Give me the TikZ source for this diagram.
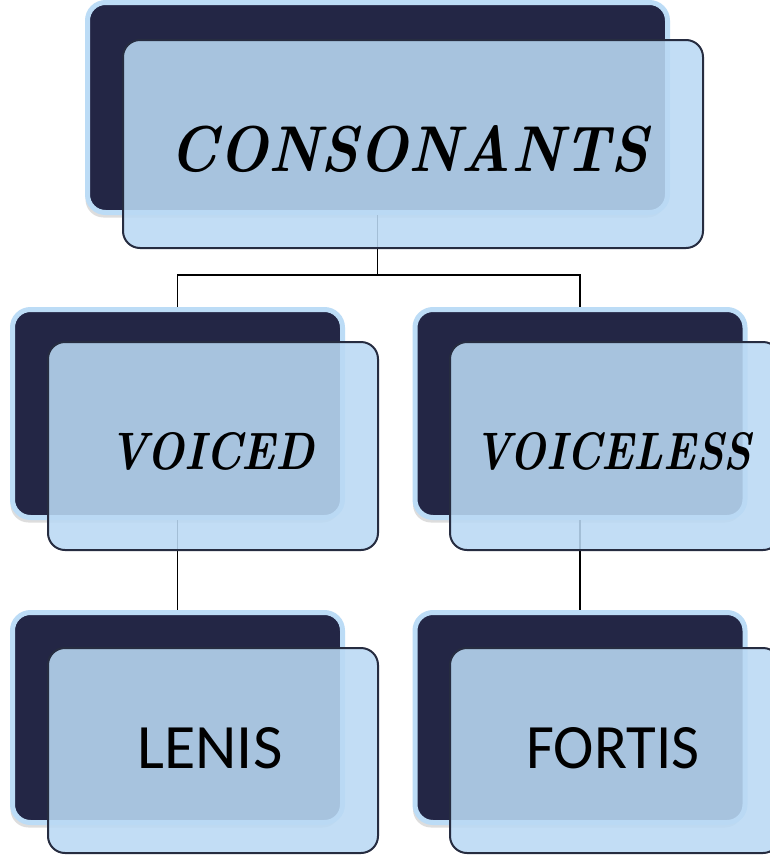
\documentclass[tikz,border=0pt]{standalone}
\usepackage{fontspec}
\newfontfamily\calib{Carlito}
\usetikzlibrary{shadows,calc}
\definecolor{navy}{HTML}{232645}
\definecolor{glow}{HTML}{BCDCF6}
\definecolor{frontfill}{HTML}{BAD9F4}
\definecolor{edge}{HTML}{262C40}
\begin{document}
\begin{tikzpicture}[x=1pt,y=-1pt,
  backbox/.style={rounded corners=18pt, fill=navy, draw=glow, line width=5pt,
    inner sep=0pt,
    drop shadow={shadow xshift=-2pt,shadow yshift=-5pt,opacity=0.22,fill=black!60}},
  frontbox/.style={rounded corners=17pt, fill=frontfill, fill opacity=0.88,
    draw=edge, draw opacity=1, line width=2pt, inner sep=0pt},
  conn/.style={draw=black, line width=1.8pt},
  calli/.style={inner sep=0pt, text=black, font=\bfseries\itshape},
  plain/.style={inner sep=0pt, text=black, font=\calib}
]
\useasboundingbox (0,0) rectangle (770,857);
\fill[white] (0,0) rectangle (770,857);
\clip (0,0) rectangle (770,857);

% back boxes
\node[backbox, minimum width=580pt, minimum height=210pt] (b0) at (377.5,107.5) {};
\node[backbox, minimum width=330pt, minimum height=208pt] (b1) at (177.5,413.5) {};
\node[backbox, minimum width=330pt, minimum height=208pt] (b2) at (580,413.5) {};
\node[backbox, minimum width=330pt, minimum height=210pt] (b3) at (177.5,717.5) {};
\node[backbox, minimum width=330pt, minimum height=210pt] (b4) at (580,717.5) {};

% connectors
\coordinate (jn) at (377.5,275);
\draw[conn] (b0.south) -- (jn);
\draw[conn] (b1.north) |- (jn) -| (b2.north);
\draw[conn] (b1.south) -- (b3.north);
\draw[conn] (b2.south) -- (b4.north);

% front boxes
\node[frontbox, minimum width=580pt, minimum height=208pt] (f0) at (413,144) {};
\node[frontbox, minimum width=330pt, minimum height=208pt] (f1) at (213,446) {};
\node[frontbox, minimum width=330pt, minimum height=208pt] (f2) at (615,446) {};
\node[frontbox, minimum width=330pt, minimum height=205pt] (f3) at (213,750.5) {};
\node[frontbox, minimum width=330pt, minimum height=205pt] (f4) at (615,750.5) {};

% labels
\node[calli] (t0) at (409,149) {\resizebox{478pt}{46pt}{CONSONANTS}};
\node[calli] (t1) at (212,451) {\resizebox{205pt}{37pt}{VOICED}};
\node[calli] (t2) at (613,451) {\resizebox{277pt}{37pt}{VOICELESS}};
\node[plain] (t3) at (210,748) {\resizebox{145pt}{41pt}{LENIS}};
\node[plain] (t4) at (613,748) {\resizebox{173pt}{41pt}{FORTIS}};
\end{tikzpicture}
\end{document}
